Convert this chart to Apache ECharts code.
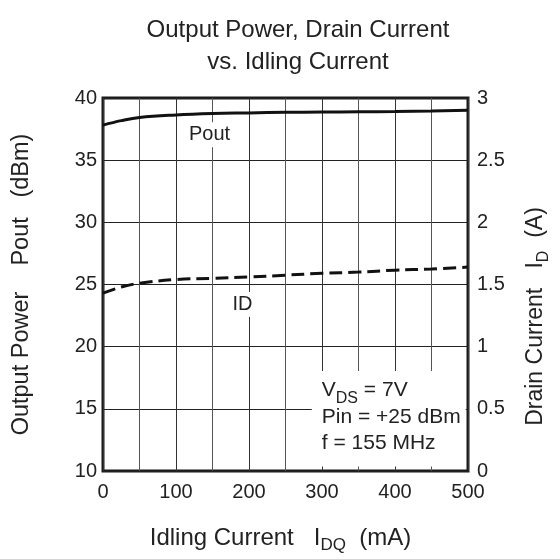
<!DOCTYPE html>
<html>
<head>
<meta charset="utf-8">
<script src="https://cdn.jsdelivr.net/npm/echarts@6/dist/echarts.min.js"></script>
<style>
html,body{margin:0;padding:0;background:#fff;}
#c{width:560px;height:559px;}
</style>
</head>
<body>
<div id="c"></div>
<script>
// ---- data ----
const idq = [0, 25, 50, 100, 150, 200, 250, 300, 350, 400, 450, 500];          // mA
const pout = [37.82, 38.18, 38.44, 38.64, 38.75, 38.80, 38.85, 38.87, 38.89, 38.91, 38.95, 39.02]; // dBm
const idrain = [1.43, 1.48, 1.51, 1.54, 1.55, 1.56, 1.575, 1.59, 1.60, 1.615, 1.625, 1.64];       // A
const xTicks = [0, 100, 200, 300, 400, 500];
const leftTicks = [10, 15, 20, 25, 30, 35, 40];
const rightTicks = [0, 0.5, 1, 1.5, 2, 2.5, 3];
const titleText = 'Output Power, Drain Current\nvs. Idling Current';
const condLines = ['{n|V}{s|DS}{n| = 7V}', '{n|Pin = +25 dBm}', '{n|f = 155 MHz}'];
const poutLabelAt = [146, 37.05];
const idLabelAt = [191, 1.34];
const condBoxAt = [286, 18.05];

const FONT = '"Liberation Sans", Arial, Helvetica, sans-serif';
const TXT = '#222';

const chart = echarts.init(document.getElementById('c'), null, {renderer: 'canvas'});

const option = {
  backgroundColor: '#fff',
  animation: false,
  textStyle: {fontFamily: FONT, color: TXT},
  title: {
    text: titleText,
    left: 293, top: 9, textAlign: 'center',
    textStyle: {fontFamily: FONT, fontSize: 24, fontWeight: 'normal', color: TXT, lineHeight: 32}
  },
  grid: {
    left: 103, right: 81, top: 98, bottom: 85,
    show: true, borderColor: '#1a1a1a', borderWidth: 3, backgroundColor: 'transparent'
  },
  xAxis: {
    type: 'value', min: xTicks[0], max: xTicks[xTicks.length - 1], interval: 100,
    axisLine: {show: false}, axisTick: {show: false},
    axisLabel: {fontFamily: FONT, fontSize: 20, color: TXT, margin: 11},
    splitLine: {show: true, lineStyle: {color: '#333', width: 1}},
    minorTick: {show: false, splitNumber: 2},
    minorSplitLine: {show: true, lineStyle: {color: '#555', width: 1}},
    name: '{n|Idling Current   I}{s|DQ}{n|  (mA)}',
    nameLocation: 'middle', nameGap: 55,
    nameTextStyle: {
      padding: [0, 10, 0, 0],
      rich: {
        n: {fontFamily: FONT, fontSize: 24, color: TXT, lineHeight: 28, verticalAlign: 'top'},
        s: {fontFamily: FONT, fontSize: 17, color: TXT, lineHeight: 11, verticalAlign: 'bottom'}
      }
    }
  },
  yAxis: [
    {
      type: 'value', position: 'left', min: leftTicks[0], max: leftTicks[leftTicks.length - 1], interval: 5,
      axisLine: {show: false}, axisTick: {show: false},
      axisLabel: {fontFamily: FONT, fontSize: 20, color: TXT, margin: 6},
      splitLine: {show: true, lineStyle: {color: '#222', width: 1}},
      name: 'Output Power    Pout   (dBm)',
      nameLocation: 'middle', nameRotate: 90, nameGap: 69,
      nameTextStyle: {fontFamily: FONT, fontSize: 23.5, color: TXT}
    },
    {
      type: 'value', position: 'right', min: rightTicks[0], max: rightTicks[rightTicks.length - 1], interval: 0.5,
      axisLine: {show: false}, axisTick: {show: false},
      axisLabel: {fontFamily: FONT, fontSize: 20, color: TXT, margin: 9},
      splitLine: {show: false},
      name: '{n|Drain Current   I}{s|D}{n|  (A)}',
      nameLocation: 'middle', nameRotate: 90, nameGap: 56,
      nameTextStyle: {
        padding: [0, 64, 0, 0],
        rich: {
          n: {fontFamily: FONT, fontSize: 23, color: TXT, lineHeight: 28, verticalAlign: 'top'},
          s: {fontFamily: FONT, fontSize: 16, color: TXT, lineHeight: 11, verticalAlign: 'bottom'}
        }
      }
    }
  ],
  series: [
    {
      name: 'Pout', type: 'line', xAxisIndex: 0, yAxisIndex: 0,
      data: idq.map((x, i) => [x, pout[i]]),
      smooth: 0.4, showSymbol: false, symbol: 'none',
      lineStyle: {color: '#111', width: 3},
      z: 5,
      markPoint: {
        symbol: 'rect', symbolSize: 1, itemStyle: {color: 'rgba(0,0,0,0)'},
        label: {show: true, formatter: 'Pout', position: 'inside', fontFamily: FONT, fontSize: 20, color: TXT,
                backgroundColor: '#fff', padding: [3, 2, 2, 2]},
        data: [{coord: poutLabelAt}]
      }
    },
    {
      name: 'ID', type: 'line', xAxisIndex: 0, yAxisIndex: 1,
      data: idq.map((x, i) => [x, idrain[i]]),
      smooth: 0.4, showSymbol: false, symbol: 'none',
      lineStyle: {color: '#111', width: 3, type: [13, 6]},
      z: 5,
      markPoint: {
        symbol: 'rect', symbolSize: 1, itemStyle: {color: 'rgba(0,0,0,0)'},
        label: {show: true, formatter: 'ID', position: 'inside', fontFamily: FONT, fontSize: 20, color: TXT,
                backgroundColor: '#fff', padding: [3, 2, 2, 2]},
        data: [{coord: idLabelAt}]
      }
    }
  ]
};

chart.setOption(option);

// conditions box, anchored in data coordinates (top-left corner)
const p = chart.convertToPixel({xAxisIndex: 0, yAxisIndex: 0}, condBoxAt);
chart.setOption({
  graphic: [{
    type: 'text', x: p[0], y: p[1], z: 10,
    style: {
      text: condLines.join('\n'),
      backgroundColor: '#fff',
      padding: [9, 5, 7, 10],
      rich: {
        n: {fontFamily: FONT, fontSize: 21, fill: TXT, lineHeight: 26.5, verticalAlign: 'top'},
        s: {fontFamily: FONT, fontSize: 16, fill: TXT, lineHeight: 8, verticalAlign: 'bottom'}
      }
    }
  }]
});
</script>
</body>
</html>
